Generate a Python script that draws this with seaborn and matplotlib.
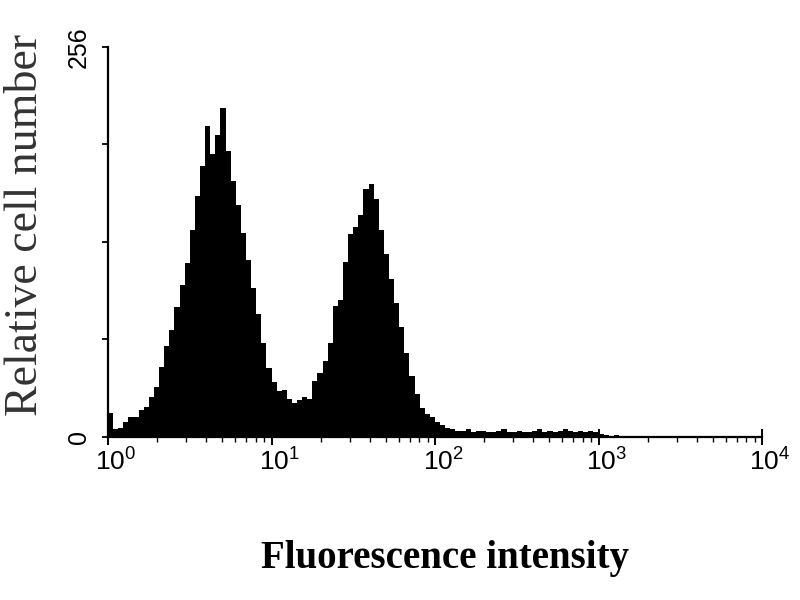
import numpy as np
import pandas as pd
import seaborn as sns
import matplotlib.pyplot as plt
import matplotlib.transforms as mtransforms
from matplotlib.ticker import FixedLocator, LogLocator, NullFormatter

# histogram channel counts, 32 channels per decade from 10^0 to 10^4
counts = [
    16, 5, 6, 10, 13, 13, 18, 20, 26, 33,
    46, 60, 70, 85, 100, 114, 136, 158, 178, 204,
    186, 198, 216, 188, 168, 152, 134, 116, 98, 81,
    62, 45, 36, 30, 31, 25, 22, 24, 26, 25,
    37, 42, 50, 62, 86, 90, 115, 133, 138, 146,
    163, 166, 156, 136, 120, 104, 88, 72, 55, 40,
    28, 19, 15, 13, 10, 8, 6, 5,
    4, 4, 5, 3, 4, 4, 3, 3, 4, 5,
    3, 3, 4, 3, 3, 4, 5, 3, 4, 3,
    4, 5, 4, 3, 4, 3, 4, 3, 2, 1,
    0, 1,
]
counts = counts + [0] * (128 - len(counts))
per_decade = 32
n_decades = 4

y_ticks = [0, 256]
y_minor = [64, 128, 192]
x_label = "Fluorescence intensity"
y_label = "Relative cell number"

log_centres = (np.arange(len(counts)) + 0.5) / per_decade
df = pd.DataFrame({"intensity": 10 ** log_centres, "cells": counts})

sns.set_style("ticks")
plt.rcParams["mathtext.fontset"] = "custom"
plt.rcParams["mathtext.rm"] = "Liberation Sans"
plt.rcParams["mathtext.it"] = "Liberation Sans:italic"
plt.rcParams["mathtext.bf"] = "Liberation Sans:bold"
plt.rcParams["text.color"] = "black"
plt.rcParams["axes.labelcolor"] = "black"
plt.rcParams["xtick.color"] = "black"
plt.rcParams["ytick.color"] = "black"

fig = plt.figure(figsize=(8, 6), dpi=100)
ax = fig.add_axes([0.135, 0.2717, 0.8175, 0.65])

sns.histplot(data=df, x="intensity", weights="cells", log_scale=True,
             bins=per_decade * n_decades, binrange=(0, n_decades),
             element="step", fill=True, color="black", alpha=1,
             linewidth=0, ax=ax)

ax.set_xlim(1, 10 ** n_decades)
ax.set_ylim(0, 256)

for side in ["top", "right"]:
    ax.spines[side].set_visible(False)
for side in ["left", "bottom"]:
    ax.spines[side].set_linewidth(1.6)
    ax.spines[side].set_color("black")

ax.xaxis.set_major_locator(LogLocator(base=10, numticks=10))
ax.xaxis.set_minor_locator(LogLocator(base=10, subs=np.arange(2, 10), numticks=20))
ax.xaxis.set_minor_formatter(NullFormatter())
ax.tick_params(axis="x", which="major", direction="inout", length=11, width=1.4,
               labelsize=19, pad=3)
ax.tick_params(axis="x", which="minor", direction="out", length=3.5, width=1.0)
shift = mtransforms.ScaledTranslation(8 / 100, 0, fig.dpi_scale_trans)
for lab in ax.get_xticklabels():
    lab.set_family("Liberation Sans")
    lab.set_transform(lab.get_transform() + shift)

ax.yaxis.set_major_locator(FixedLocator(y_ticks))
ax.yaxis.set_minor_locator(FixedLocator(y_minor))
ax.set_yticklabels([str(v) for v in y_ticks], rotation=90, va="center",
                   family="Liberation Sans", fontsize=18)
ax.tick_params(axis="y", which="both", direction="out", length=4.5, width=1.3, pad=8)

ax.set_xlabel(x_label, family="Liberation Serif", fontweight="bold", fontsize=28)
ax.xaxis.set_label_coords(0.516, -0.263)
ax.set_ylabel(y_label, family="Liberation Serif", fontsize=33, color="#333333")
ax.yaxis.set_label_coords(-0.093, 0.544)

plt.savefig("out.png", dpi=100)
